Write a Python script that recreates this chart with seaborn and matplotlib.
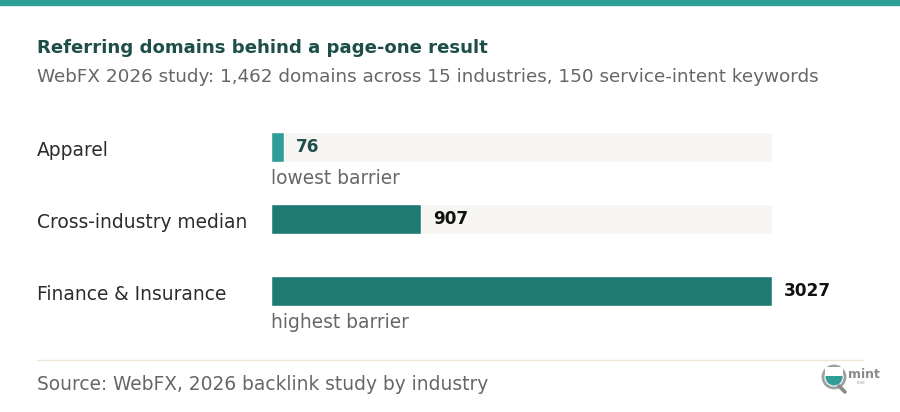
import matplotlib
matplotlib.use("Agg")
import matplotlib.pyplot as plt
import seaborn as sns
import pandas as pd
from matplotlib.patches import Rectangle, Circle

# chart data
categories = ["Apparel", "Cross-industry median", "Finance & Insurance"]
values = [76, 907, 3027]
notes = ["lowest barrier", "", "highest barrier"]
bar_colors = ["#2E9E96", "#1F7A74", "#1F7A74"]
label_colors = ["#1D4E48", "#111111", "#111111"]

title = "Referring domains behind a page-one result"
subtitle = "WebFX 2026 study: 1,462 domains across 15 industries, 150 service-intent keywords"
source = "Source: WebFX, 2026 backlink study by industry"

sns.set_theme(style="white")
plt.rcParams["font.family"] = ["DejaVu Sans"]

W, H = 900, 412
fig = plt.figure(figsize=(W / 100, H / 100), dpi=100)
fig.patch.set_facecolor("white")

def fx(px):
    return px / W

def fy(py):
    return 1 - py / H

# top stripe
fig.patches.append(Rectangle((0, fy(5)), 1, 5 / H, transform=fig.transFigure,
                             color="#2E9E96", zorder=0))

fig.text(fx(37), fy(48), title, fontsize=13.1, fontweight="bold", color="#1D4E48", va="center")
fig.text(fx(37), fy(77), subtitle, fontsize=13.2, color="#666666", va="center")

df = pd.DataFrame({"category": categories, "value": values})
track = pd.DataFrame({"category": categories, "value": [max(values)] * len(values)})

ax = fig.add_axes([fx(271), fy(327), fx(772) - fx(271), 216 / H])
sns.barplot(data=track, x="value", y="category", orient="h", color="#F6F5F2",
            width=30 / 72, saturation=1, ax=ax, zorder=1)
sns.barplot(data=df, x="value", y="category", orient="h", hue="category",
            palette=bar_colors, legend=False, width=30 / 72, saturation=1, ax=ax, zorder=2)
ax.set_xlim(0, max(values))
ax.set_ylim(2.5, -0.5)
ax.axis("off")

for i, (cat, v) in enumerate(zip(categories, values)):
    ax.text(v + max(values) * 12 / 501, i, str(v), va="center", ha="left",
            fontsize=12.2, fontweight="bold", color=label_colors[i])
    fig.text(fx(37), fy(150 + 72 * i), cat, fontsize=13.4, color="#2B2B2B", va="center")
    if notes[i]:
        ax.text(0, i + 31 / 72, notes[i], va="center", ha="left", fontsize=13.4, color="#666666")

# separator and source
fig.lines.append(plt.Line2D([fx(37), fx(863)], [fy(360), fy(360)], transform=fig.transFigure,
                            color="#EDE6D8", lw=1))
fig.text(fx(37), fy(384), source, fontsize=13.4, color="#666666", va="center")

# small logo mark
lax = fig.add_axes([fx(820), fy(394), 62 / W, 32 / H])
lax.set_xlim(0, 62)
lax.set_ylim(0, 32)
lax.set_aspect("equal")
lax.axis("off")
lax.plot([19, 25], [8, 2], color="#8A8A8A", lw=2.6, solid_capstyle="round")
lax.add_patch(Circle((14, 17), 11, facecolor="white", edgecolor="#A0A0A0", lw=2))
lax.add_patch(Circle((14, 17), 8.5, facecolor="#2E9E96", edgecolor="none"))
lax.add_patch(Rectangle((5, 18), 18, 9, facecolor="white", edgecolor="none"))
lax.text(28, 19, "mint", fontsize=9, fontweight="bold", color="#8A8A8A", va="center")
lax.text(41, 11, "LIVE", fontsize=3, color="#9A9A9A", va="center", ha="center")

fig.savefig("out.png", dpi=100)
